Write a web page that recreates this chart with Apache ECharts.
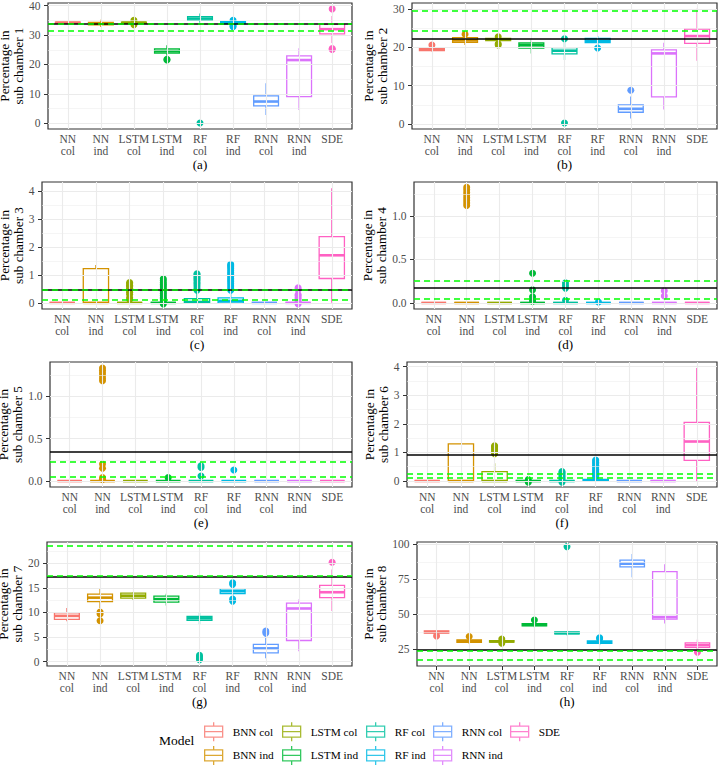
<!DOCTYPE html>
<html><head><meta charset="utf-8">
<script src="https://cdn.jsdelivr.net/npm/echarts@6/dist/echarts.min.js"></script>
<style>html,body{margin:0;padding:0;background:#fff}#c{width:719px;height:766px}</style>
</head><body><div id="c"></div>
<script>
// ---------- data ----------
const categories = ["NN\ncol","NN\nind","LSTM\ncol","LSTM\nind","RF\ncol","RF\nind","RNN\ncol","RNN\nind","SDE"];
const models = ["BNN col","BNN ind","LSTM col","LSTM ind","RF col","RF ind","RNN col","RNN ind","SDE"];
const colors = ["#F8766D","#D39200","#93AA00","#00BA38","#00C19F","#00B9E3","#619CFF","#DB72FB","#FF61C3"];
const captions = ["(a)","(b)","(c)","(d)","(e)","(f)","(g)","(h)"];

// [min, Q1, median, Q3, max] per category
const box1 = [[33.9,34.0,34.2,34.4,34.5],[32.7,33.5,33.9,34.3,35.2],[33.9,34.0,34.2,34.4,34.6],[23.0,23.9,24.6,25.3,26.5],[34.2,35.0,35.6,36.3,37.3],[33.5,33.9,34.2,34.6,34.9],[2.8,5.9,7.4,9.3,13.6],[4.5,9.1,21.5,22.9,25.5],[27.3,30.4,32.0,33.6,36.5]];
const box2 = [[18.9,19.1,19.4,19.7,20.2],[20.6,21.3,21.8,22.5,23.0],[21.4,21.7,22.0,22.3,22.6],[18.4,19.8,20.5,21.1,22.0],[16.7,18.3,19.1,19.9,21.6],[20.6,21.2,21.7,22.3,22.9],[1.5,3.1,4.0,5.0,7.2],[3.8,7.1,18.4,19.3,21.2],[16.5,21.0,22.9,24.7,30.0]];
const box3 = [[0,0,0,0,0],[0,0,0,1.22,1.35],[0,0,0,0,0],[0,0,0,0,0],[0,0,0.03,0.15,0.35],[0,0,0.07,0.18,0.42],[0,0,0,0,0],[0,0,0,0,0],[0,0.87,1.7,2.37,4.1]];
const box4 = [[0,0,0,0,0],[0,0,0,0,0],[0,0,0,0,0],[0,0,0,0,0],[0,0,0,0,0],[0,0,0,0,0],[0,0,0,0,0],[0,0,0,0,0],[0,0,0,0,0]];
const box5 = [[0,0,0,0,0],[0,0,0,0,0],[0,0,0,0,0],[0,0,0,0,0],[0,0,0,0,0],[0,0,0,0,0],[0,0,0,0,0],[0,0,0,0,0],[0,0,0,0,0]];
const box6 = [[0,0,0,0,0],[0,0,0,1.3,1.33],[0,0,0,0.33,0.62],[0,0,0,0,0],[0,0,0,0,0],[0,0,0.02,0.06,0.12],[0,0,0,0,0],[0,0,0,0,0],[0,0.72,1.38,2.05,3.95]];
const box7 = [[8.2,8.6,9.3,9.9,10.9],[10.9,12.2,13.0,13.7,14.8],[12.5,12.9,13.4,13.9,14.1],[11.4,12.1,12.7,13.3,13.8],[7.6,8.4,8.8,9.2,10.0],[13.0,13.8,14.3,14.8,15.5],[0.7,1.8,2.7,3.5,5.3],[2.1,4.3,10.8,11.9,12.6],[10.3,13.0,14.1,15.5,18.7]];
const box8 = [[35.8,36.5,37.3,38.2,38.8],[29.0,29.9,30.8,31.8,33.0],[29.6,30.1,30.6,31.2,31.6],[40.8,41.7,42.5,43.4,44.5],[35.0,36.0,36.6,37.4,38.0],[28.0,29.3,30.0,31.0,31.5],[76.5,83.9,86.1,88.6,93.0],[43.5,46.6,48.0,80.5,85.8],[24.5,26.4,28.0,29.6,32.0]];

// outliers per category
const out1 = [[],[],[35.0,33.5],[21.5,21.8],[0.1],[35.0,32.8,33.2],[],[],[38.9,25.1,25.4]];
const out2 = [[20.6],[23.4],[20.6,20.9,22.7],[],[22.2,0.3],[19.8],[8.8],[],[]];
const out3 = [[],[],[0.12,0.18,0.3,0.38,0.45,0.52,0.58,0.63,0.68,0.73],[-0.04,0.05,0.1,0.15,0.2,0.27,0.33,0.4,0.47,0.53,0.6,0.66,0.72,0.8,0.86],[0.45,0.52,0.6,0.67,0.73,0.8,0.85,0.9,0.95,1.0,1.04],[0.45,0.52,0.6,0.68,0.75,0.82,0.88,0.95,1.02,1.08,1.15,1.22,1.28,1.33,1.38],[],[-0.04,0.05,0.12,0.18,0.25,0.3,0.48,0.54],[]];
const out4 = [[],[1.12,1.15,1.18,1.21,1.24,1.27,1.3,1.33],[],[0.02,0.04,0.07,0.15,0.34],[0.03,0.17,0.2,0.23],[0.01],[],[0.08,0.14],[]];
const out5 = [[],[0.02,0.04,0.15,0.2,1.18,1.21,1.24,1.27,1.3,1.33],[],[0.04],[0.06,0.16,0.18],[0.13],[],[],[]];
const out6 = [[],[],[0.95,1.0,1.05,1.1,1.15,1.2,1.23],[-0.04,0.05],[-0.04,0.05,0.1,0.15,0.2,0.25,0.3,0.33],[0.15,0.2,0.25,0.3,0.35,0.4,0.45,0.5,0.55,0.6,0.65,0.7,0.73],[],[],[]];
const out7 = [[],[10.1,9.7,8.3],[],[],[0.4,0.7,1.0,1.3],[16.0,15.7,12.3,12.7],[5.8,6.2],[],[20.2]];
const out8 = [[34.6],[34.2],[32.4,29.3],[45.9],[98.3],[33.3,32.5],[],[],[23.0]];

// reference lines
const refBlack = [33.9, 22.3, 0.48, 0.17, 0.337, 0.9, 17.2, 24.9];
const refGreen = [[34.0,31.3],[29.5,24.3],[0.46,0.10],[0.256,0.05],[0.235,0.047],[0.27,0.13],[17.4,23.6],[24.1,17.4]];

// axes
const yTicks = [[0,10,20,30,40],[0,10,20,30],[0,1,2,3,4],[0,0.5,1],[0,0.5,1],[0,1,2,3,4],[0,5,10,15,20],[25,50,75,100]];
const yDecimals = [0,0,0,1,1,0,0,0];
const yMin = [-1.94,-1.25,-0.22,-0.07,-0.07,-0.21,-0.88,13.1];
const yMax = [40.9,31.5,4.32,1.39,1.40,4.16,24.3,101.6];

const boxes = [box1,box2,box3,box4,box5,box6,box7,box8];
const outs = [out1,out2,out3,out4,out5,out6,out7,out8];

// ---------- layout ----------
const panels = [
  {left:48, top:3, width:304, height:126, titleX:34},
  {left:412, top:3, width:305, height:126, titleX:397},
  {left:42, top:182, width:310, height:127, titleX:34},
  {left:414, top:182, width:303, height:127, titleX:397},
  {left:50, top:362, width:302, height:125, titleX:34},
  {left:407, top:362, width:310, height:125, titleX:397},
  {left:47, top:542, width:305, height:124, titleX:34},
  {left:417, top:542, width:300, height:124, titleX:397}
];
const FONT = 'Liberation Serif';
const catPos = categories.map((c, j) => j + 1);

const grid = [], xAxis = [], yAxis = [], series = [];
panels.forEach((p, i) => {
  grid.push({left:p.left, top:p.top, width:p.width, height:p.height, show:true, backgroundColor:'#fff',
    borderColor:'#333333', borderWidth:1.2, containLabel:false, outerBoundsMode:'none'});
  xAxis.push({type:'value', gridIndex:i, min:0.4, max:9.6,
    axisLine:{show:false}, splitLine:{show:false},
    axisTick:{show:true, customValues:catPos, length:4, lineStyle:{color:'#333', width:1}},
    axisLabel:{show:true, customValues:catPos, formatter:v => categories[Math.round(v)-1] || '',
      color:'#4D4D4D', fontFamily:FONT, fontSize:11.5, lineHeight:12, margin:4},
    name:captions[i], nameLocation:'middle', nameGap:25.5,
    nameTextStyle:{color:'#000', fontFamily:FONT, fontSize:13, lineHeight:14}});
  yAxis.push({type:'value', gridIndex:i, min:yMin[i], max:yMax[i],
    axisLine:{show:false}, splitLine:{show:false},
    axisTick:{show:true, customValues:yTicks[i], length:4, lineStyle:{color:'#333', width:1}},
    axisLabel:{show:true, customValues:yTicks[i], formatter:v => Number(v).toFixed(yDecimals[i]),
      color:'#4D4D4D', fontFamily:FONT, fontSize:11.5, margin:7.5},
    name:'Percentage in\nsub chamber ' + (i+1), nameLocation:'middle', nameRotate:90, nameGap:p.left - p.titleX,
    nameTextStyle:{color:'#000', fontFamily:FONT, fontSize:13.2, lineHeight:13.5}});

  // grid lines (major, minor, vertical) from tick arrays
  const t = yTicks[i];
  const step = t[1] - t[0];
  const minors = [];
  for (let k = -1; k < t.length; k++) {
    const m = t[0] + (k + 0.5) * step;
    if (m > yMin[i] && m < yMax[i]) minors.push(m);
  }
  const gl = [];
  minors.forEach(v => gl.push({yAxis:v, lineStyle:{color:'#EFEFEF', width:0.6, type:'solid'}}));
  t.forEach(v => gl.push({yAxis:v, lineStyle:{color:'#EBEBEB', width:1.1, type:'solid'}}));
  catPos.forEach(v => gl.push({xAxis:v, lineStyle:{color:'#EBEBEB', width:1.1, type:'solid'}}));
  series.push({type:'line', xAxisIndex:i, yAxisIndex:i, data:[], z:0, silent:true,
    markLine:{silent:true, animation:false, symbol:['none','none'], label:{show:false}, data:gl}});

  // boxes
  series.push({type:'custom', xAxisIndex:i, yAxisIndex:i, z:2, silent:true,
    encode:{x:0, y:[1,2,3,4,5]},
    data: boxes[i].map((b, j) => [j + 1].concat(b)),
    renderItem: function (params, api) {
      const x = api.value(0);
      const c = colors[x - 1];
      const lo = api.coord([x, api.value(1)]);
      const q1 = api.coord([x, api.value(2)]);
      const md = api.coord([x, api.value(3)]);
      const q3 = api.coord([x, api.value(4)]);
      const hi = api.coord([x, api.value(5)]);
      const w = api.size([0.75, 0])[0];
      const cx = lo[0];
      return {type:'group', children:[
        {type:'line', shape:{x1:cx, y1:hi[1], x2:cx, y2:q3[1]}, style:{stroke:c, lineWidth:1.3}},
        {type:'line', shape:{x1:cx, y1:q1[1], x2:cx, y2:lo[1]}, style:{stroke:c, lineWidth:1.3}},
        {type:'rect', shape:{x:cx - w/2, y:q3[1], width:w, height:q1[1] - q3[1]}, style:{fill:'#fff', stroke:c, lineWidth:1.3}},
        {type:'line', shape:{x1:cx - w/2, y1:md[1], x2:cx + w/2, y2:md[1]}, style:{stroke:c, lineWidth:2.6}}
      ]};
    }});

  // outliers
  const od = [];
  outs[i].forEach((arr, j) => arr.forEach(v => od.push([j + 1, v])));
  series.push({type:'scatter', xAxisIndex:i, yAxisIndex:i, z:3, silent:true, symbol:'circle', symbolSize:7,
    data:od, itemStyle:{color:pp => colors[pp.value[0] - 1], opacity:1}});

  // reference lines (black solid, then green dashed on top)
  const rl = [{yAxis:refBlack[i], lineStyle:{color:'#000', width:1.5, type:'solid'}}];
  refGreen[i].forEach(v => rl.push({yAxis:v, lineStyle:{color:'#00FF00', width:1.5, type:[6,4]}}));
  series.push({type:'line', xAxisIndex:i, yAxisIndex:i, data:[], z:4, silent:true,
    markLine:{silent:true, animation:false, symbol:['none','none'], label:{show:false}, data:rl}});
});

// legend dummy series
models.forEach((m, k) => {
  series.push({type:'scatter', name:m, xAxisIndex:0, yAxisIndex:0, data:[],
    itemStyle:{color:'#fff', borderColor:colors[k], borderWidth:1.3}});
});
const legendCols = [[0,1],[2,3],[4,5],[6,7],[8]];
const legendLeft = [204, 282, 366, 433, 510];
const boxIcon = 'path://M9,0L9,4M0,4L18,4L18,15L0,15ZM0,9.5L18,9.5M9,15L9,19';
const legend = legendCols.map((col, c) => ({
  orient:'vertical', left:legendLeft[c], top:721.5, padding:0,
  itemWidth:18, itemHeight:19, itemGap:3.5, icon:boxIcon, selectedMode:false,
  itemStyle:{borderWidth:1.3},
  textStyle:{color:'#000', fontFamily:FONT, fontSize:11.3, padding:[0,0,0,5]},
  data: col.map(k => models[k])
}));

const chart = echarts.init(document.getElementById('c'), null, {renderer:'svg'});
chart.setOption({
  animation:false,
  backgroundColor:'#fff',
  textStyle:{fontFamily:FONT},
  title:[{text:'Model', left:159, top:733, padding:0,
    textStyle:{color:'#000', fontFamily:FONT, fontSize:13.5, fontWeight:'normal'}}],
  legend, grid, xAxis, yAxis, series
});
</script></body></html>
